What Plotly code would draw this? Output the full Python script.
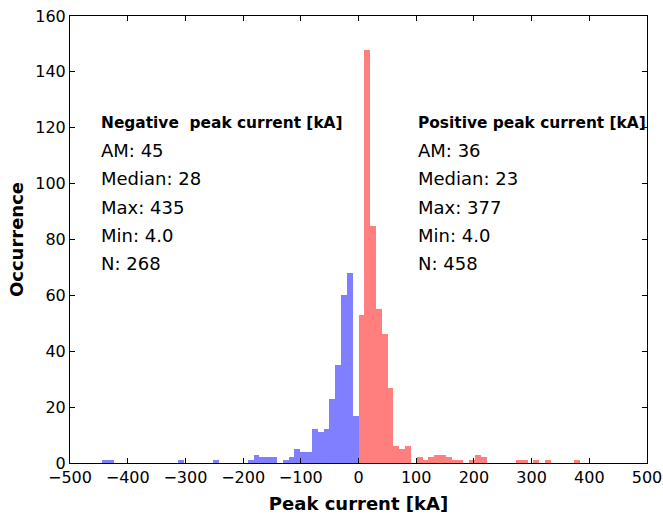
import numpy as np
import plotly.graph_objects as go

# Histogram of lightning peak currents, split by polarity.
BIN_WIDTH = 10.1  # kA, bins aligned at 0

# counts per bin, going outward from 0 (negative: 0 -> -W, -W -> -2W, ...)
neg_counts = [17, 68, 60, 35, 23, 12, 11, 12, 4, 4, 5, 2, 1, 0, 2, 2, 2, 3, 1,
              0, 0, 0, 0, 0, 1, 0, 0, 0, 0, 0, 1, 0, 0, 0, 0, 0, 0, 0, 0, 0,
              0, 0, 1, 1]
pos_counts = [53, 148, 85, 55, 46, 27, 6, 5, 6, 0, 2, 1, 2, 3, 3, 2, 1, 1, 0,
              1, 3, 2, 0, 0, 0, 0, 0, 1, 1, 0, 1, 0, 1, 0, 0, 0, 0, 1]

neg_stats = ["AM: 45", "Median: 28", "Max: 435", "Min: 4.0", "N: 268"]
pos_stats = ["AM: 36", "Median: 23", "Max: 377", "Min: 4.0", "N: 458"]
neg_title = "Negative  peak current [kA]"
pos_title = "Positive peak current [kA]"

x_ticks = list(range(-500, 501, 100))
y_ticks = list(range(0, 161, 20))

neg_centers = -(np.arange(len(neg_counts)) + 0.5) * BIN_WIDTH
pos_centers = (np.arange(len(pos_counts)) + 0.5) * BIN_WIDTH

FONT = "DejaVu Sans"

fig = go.Figure()
fig.add_trace(go.Bar(x=neg_centers, y=neg_counts, width=BIN_WIDTH,
                     marker=dict(color="rgba(0,0,255,0.5)", line=dict(width=0)),
                     showlegend=False))
fig.add_trace(go.Bar(x=pos_centers, y=pos_counts, width=BIN_WIDTH,
                     marker=dict(color="rgba(255,0,0,0.5)", line=dict(width=0)),
                     showlegend=False))

axis_common = dict(showline=True, linecolor="black", linewidth=1, mirror="allticks",
                   ticks="inside", ticklen=5, tickcolor="black", tickwidth=1,
                   showgrid=False, zeroline=False,
                   tickfont=dict(family=FONT, size=16, color="black"))

fig.update_xaxes(range=[-500, 500], tickvals=x_ticks,
                 title=dict(text="<b>Peak current [kA]</b>", standoff=11,
                            font=dict(family=FONT, size=18, color="black")),
                 **axis_common)
fig.update_yaxes(range=[0, 160], tickvals=y_ticks,
                 title=dict(text="<b>Occurrence</b>", standoff=6,
                            font=dict(family=FONT, size=18, color="black")),
                 **axis_common)

annotations = []
for x0, title, lines in [(-450, neg_title, neg_stats), (100, pos_title, pos_stats)]:
    annotations.append(dict(x=x0, y=121.6, xref="x", yref="y", text=f"<b>{title}</b>",
                            showarrow=False, xanchor="left", yanchor="middle",
                            font=dict(family=FONT, size=15.4, color="black")))
    for i, t in enumerate(lines):
        annotations.append(dict(x=x0, y=111.8 - 10.1 * i, xref="x", yref="y", text=t,
                                showarrow=False, xanchor="left", yanchor="middle",
                                font=dict(family=FONT, size=18, color="black")))

fig.update_layout(width=663, height=514, barmode="overlay", bargap=0,
                  plot_bgcolor="white", paper_bgcolor="white",
                  margin=dict(l=70, r=16, t=16, b=51, autoexpand=False),
                  annotations=annotations, font=dict(family=FONT))

fig.write_html("out.html")
